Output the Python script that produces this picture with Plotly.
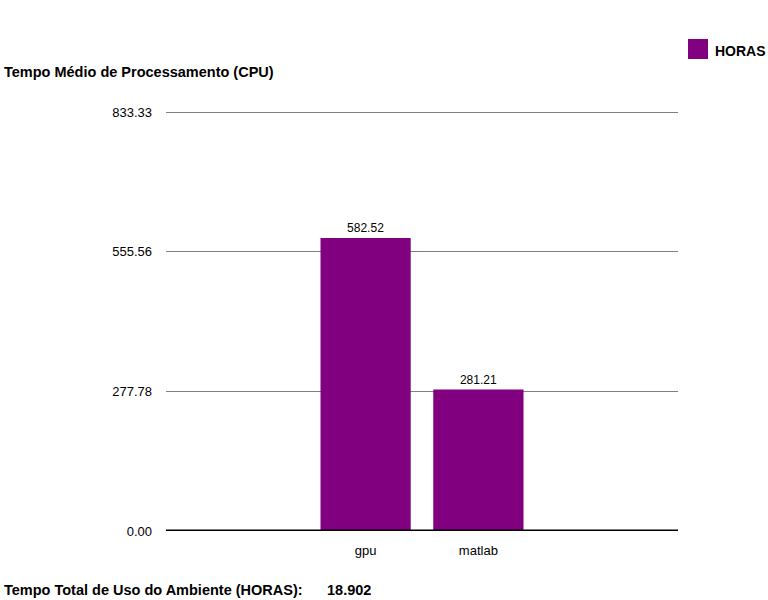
import plotly.graph_objects as go

# dados do grafico
ambientes = ['gpu', 'matlab']
horas = [582.52, 281.21]
y_ticks = [0.00, 277.78, 555.56, 833.33]
tempo_total = '18.902'

cor = '#800080'
fonte = 'Liberation Sans, Arial, sans-serif'

fig = go.Figure()
fig.add_trace(go.Bar(
    x=ambientes, y=horas, name='HORAS',
    marker=dict(color=cor, line=dict(width=0)),
    text=['%.2f' % h for h in horas], textposition='outside',
    textfont=dict(size=12, color='#000000'), cliponaxis=False,
    showlegend=False,
))

fig.update_layout(
    width=768, height=600,
    margin=dict(l=166, r=90, t=109, b=69),
    paper_bgcolor='white', plot_bgcolor='white',
    font=dict(family=fonte, size=13, color='#000000'),
    bargap=0.2,
)
fig.update_xaxes(
    range=[-1.77, 2.77], showgrid=False, ticks='', tickfont=dict(size=13),
    showline=False, zeroline=False, ticklabelstandoff=10,
)
# 422 px de altura, 0.5028 px por unidade
fig.update_yaxes(
    range=[0, 839.3], tickvals=y_ticks, ticktext=['%.2f' % v for v in y_ticks],
    showgrid=True, gridcolor='#808080', gridwidth=1, zeroline=False,
    ticks='', ticklabelstandoff=13, tickfont=dict(size=13),
)

# linha de base grossa
fig.add_shape(type='line', xref='paper', yref='y', x0=0, x1=1, y0=0, y1=0,
              line=dict(color='black', width=3))

# legenda manual no canto
fig.add_shape(type='rect', xref='paper', yref='paper',
              x0=(688 - 166) / 512, x1=(708 - 166) / 512,
              y0=(531 - 59) / 422, y1=(531 - 39) / 422,
              fillcolor=cor, line=dict(width=0))
fig.add_annotation(xref='paper', yref='paper', x=(713 - 166) / 512, y=(531 - 51) / 422,
                   text='<b>HORAS</b>', showarrow=False, xanchor='left', yanchor='middle',
                   font=dict(size=14, family=fonte))

# titulo e rodape
fig.add_annotation(xref='paper', yref='paper', x=(2 - 166) / 512, y=(531 - 72) / 422,
                   text='<b>Tempo Médio de Processamento (CPU)</b>', showarrow=False,
                   xanchor='left', yanchor='middle', font=dict(size=14.5, family=fonte))
fig.add_annotation(xref='paper', yref='paper', x=(2 - 166) / 512, y=(531 - 590) / 422,
                   text='<b>Tempo Total de Uso do Ambiente (HORAS):</b>', showarrow=False,
                   xanchor='left', yanchor='middle', font=dict(size=14.5, family=fonte))
fig.add_annotation(xref='paper', yref='paper', x=(325 - 166) / 512, y=(531 - 590) / 422,
                   text='<b>' + tempo_total + '</b>', showarrow=False,
                   xanchor='left', yanchor='middle', font=dict(size=14.5, family=fonte))

fig.write_html('out.html', config={'displayModeBar': False},
               post_script="document.body.style.margin='0';")
